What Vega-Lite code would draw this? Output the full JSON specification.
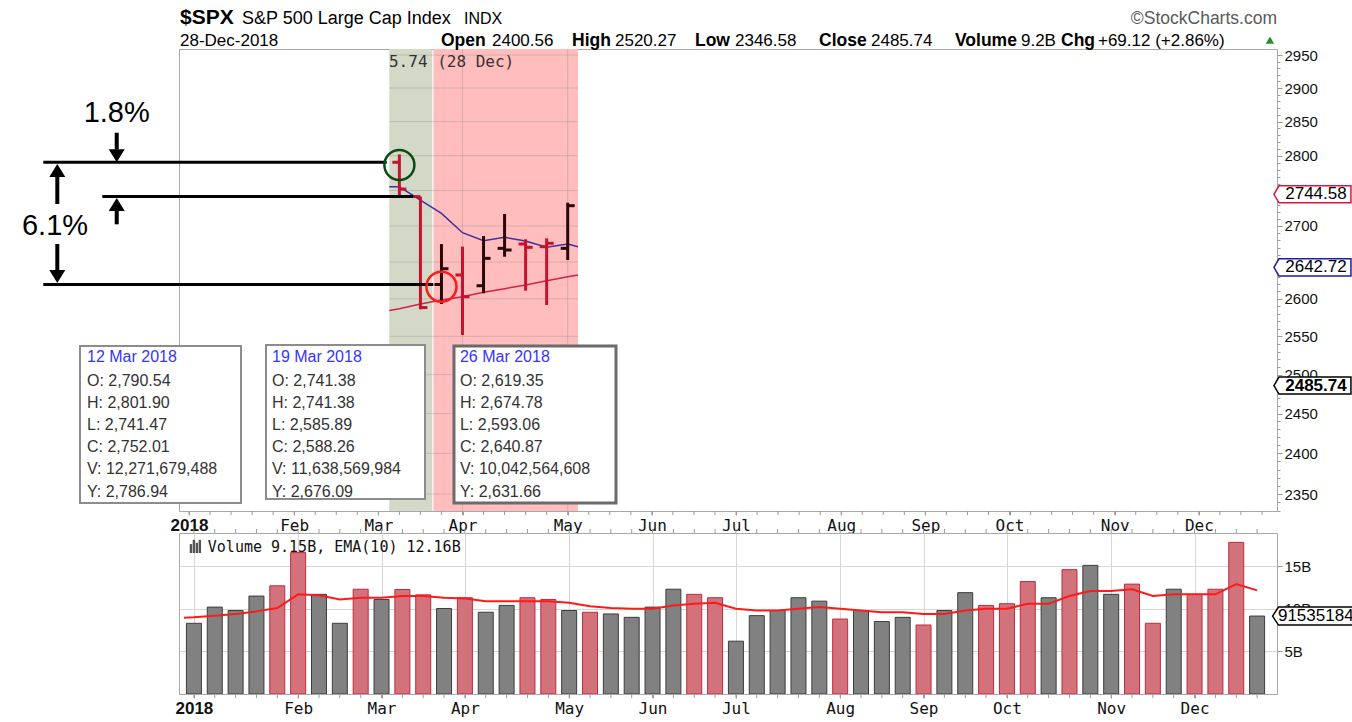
{
  "$schema": "https://vega.github.io/schema/vega-lite/v6.json",
  "background": "white",
  "padding": {"left": 21, "top": 6, "right": 0, "bottom": 0},
  "spacing": 22,
  "bounds": "flush",
  "config": {
    "view": {"stroke": "#a8a8a8", "strokeWidth": 1},
    "text": {"font": "Liberation Sans"}
  },
  "datasets": {
    "shade": [
      {"d": "2018-03-08T15:20:00Z", "d2": "2018-03-22T22:50:00Z", "k": "g"},
      {"d": "2018-03-23T08:00:00Z", "d2": "2018-05-10T10:20:00Z", "k": "p"}
    ],
    "hgrid": [{"p": 2350}, {"p": 2400}, {"p": 2450}, {"p": 2500}, {"p": 2550}, {"p": 2600}, {"p": 2650}, {"p": 2700}, {"p": 2750}, {"p": 2800}, {"p": 2850}, {"p": 2900}, {"p": 2950}],
    "vgrid": [{"d": "2018-04-02"}, {"d": "2018-05-07"}],
    "ma": [
      {"d": "2018-03-08T15:20:00Z", "b": 2755.4, "r": 2584.3},
      {"d": "2018-03-12", "b": 2755.4, "r": 2586.7},
      {"d": "2018-03-19", "b": 2736.5, "r": 2593.0},
      {"d": "2018-03-26", "b": 2717.7, "r": 2598.4},
      {"d": "2018-04-02", "b": 2690.6, "r": 2602.8},
      {"d": "2018-04-09", "b": 2679.4, "r": 2608.8},
      {"d": "2018-04-16", "b": 2684.2, "r": 2613.7},
      {"d": "2018-04-23", "b": 2679.0, "r": 2618.7},
      {"d": "2018-04-30", "b": 2670.3, "r": 2624.4},
      {"d": "2018-05-07", "b": 2674.8, "r": 2630.0},
      {"d": "2018-05-10T10:20:00Z", "b": 2671.1, "r": 2632.2}
    ],
    "ohlc": [
      {"d": "2018-03-12", "o": 2790.54, "h": 2801.90, "l": 2741.47, "c": 2752.01, "dir": "down"},
      {"d": "2018-03-19", "o": 2741.38, "h": 2741.38, "l": 2585.89, "c": 2588.26, "dir": "down"},
      {"d": "2018-03-26", "o": 2619.35, "h": 2674.78, "l": 2593.06, "c": 2640.87, "dir": "up"},
      {"d": "2018-04-02", "o": 2632.3, "h": 2671.2, "l": 2551.7, "c": 2602.8, "dir": "down"},
      {"d": "2018-04-09", "o": 2617.7, "h": 2686.0, "l": 2607.5, "c": 2655.1, "dir": "up"},
      {"d": "2018-04-16", "o": 2668.9, "h": 2716.8, "l": 2657.3, "c": 2666.6, "dir": "up"},
      {"d": "2018-04-23", "o": 2674.9, "h": 2681.4, "l": 2611.0, "c": 2670.3, "dir": "down"},
      {"d": "2018-04-30", "o": 2671.2, "h": 2682.8, "l": 2591.7, "c": 2675.9, "dir": "down"},
      {"d": "2018-05-07", "o": 2668.9, "h": 2732.7, "l": 2652.8, "c": 2728.5, "dir": "up"}
    ],
    "alines": [
      {"d": "2017-11-13T12:30:00Z", "d2": "2018-03-07T18:40:00Z", "p": 2790.54},
      {"d": "2017-12-03T03:40:00Z", "d2": "2018-03-16T15:10:00Z", "p": 2741.38},
      {"d": "2017-11-13T12:30:00Z", "d2": "2018-03-23T06:40:00Z", "p": 2619.35}
    ],
    "shafts": [
      {"d": "2017-12-07T22:50:00Z", "p": 2833.6, "p2": 2809.1},
      {"d": "2017-12-07T22:50:00Z", "p": 2721.0, "p2": 2702.3},
      {"d": "2017-11-18T04:20:00Z", "p": 2769.3, "p2": 2730.9},
      {"d": "2017-11-18T04:20:00Z", "p": 2674.9, "p2": 2637.7}
    ],
    "headsDown": [
      {"d": "2017-12-07T22:50:00Z", "p": 2799.9},
      {"d": "2017-11-18T04:20:00Z", "p": 2630.3}
    ],
    "headsUp": [
      {"d": "2017-12-07T22:50:00Z", "p": 2730.2},
      {"d": "2017-11-18T04:20:00Z", "p": 2778.7}
    ],
    "pct": [
      {"d": "2017-12-07T22:50:00Z", "p": 2849.5, "t": "1.8%"},
      {"d": "2017-11-17T10:00:00Z", "p": 2687.4, "t": "6.1%"}
    ],
    "circles": [
      {"d": "2018-03-12", "p": 2786.6, "k": "g"},
      {"d": "2018-03-26", "p": 2616.4, "k": "r"}
    ],
    "boxN": [
      {"d": "2017-11-25T17:30:00Z", "d2": "2018-01-18T07:10:00Z", "p": 2339.1, "p2": 2537.2},
      {"d": "2018-01-26T14:50:00Z", "d2": "2018-03-20T12:40:00Z", "p": 2343.9, "p2": 2538.6}
    ],
    "boxS": [
      {"d": "2018-03-30T04:00:00Z", "d2": "2018-05-23T01:40:00Z", "p": 2339.1, "p2": 2537.2}
    ],
    "boxDate": [
      {"d": "2017-11-28T01:30:00Z", "p": 2516.6, "t": "12 Mar 2018"},
      {"d": "2018-01-28T14:40:00Z", "p": 2516.6, "t": "19 Mar 2018"},
      {"d": "2018-04-01T03:50:00Z", "p": 2516.6, "t": "26 Mar 2018"}
    ],
    "boxBody": [
      {"d": "2017-11-28T01:30:00Z", "p": 2485.6, "t": "O: 2,790.54\nH: 2,801.90\nL: 2,741.47\nC: 2,752.01\nV: 12,271,679,488\nY: 2,786.94"},
      {"d": "2018-01-28T14:40:00Z", "p": 2485.6, "t": "O: 2,741.38\nH: 2,741.38\nL: 2,585.89\nC: 2,588.26\nV: 11,638,569,984\nY: 2,676.09"},
      {"d": "2018-04-01T03:50:00Z", "p": 2485.6, "t": "O: 2,619.35\nH: 2,674.78\nL: 2,593.06\nC: 2,640.87\nV: 10,042,564,608\nY: 2,631.66"}
    ],
    "hdrBig": [{"d": "2017-12-29", "p": 2997.8, "t": "$SPX"}],
    "hdrName": [{"d": "2018-01-18T15:10:00Z", "p": 2997.8, "t": "S&P 500 Large Cap Index"}],
    "hdrIndx": [{"d": "2018-04-02T12:00:00Z", "p": 2997.8, "t": "INDX"}],
    "hdrCopy": [{"d": "2018-12-29", "p": 2997.8, "t": "©StockCharts.com"}],
    "hdrLbl": [
      {"d": "2018-03-25T20:10:00Z", "p": 2963.8, "t": "Open"},
      {"d": "2018-05-08T10:20:00Z", "p": 2963.8, "t": "High"},
      {"d": "2018-06-18T08:25:00Z", "p": 2963.8, "t": "Low"},
      {"d": "2018-07-29T14:40:00Z", "p": 2963.8, "t": "Close"},
      {"d": "2018-09-12T20:40:00Z", "p": 2963.8, "t": "Volume"},
      {"d": "2018-10-18T03:05:00Z", "p": 2963.8, "t": "Chg"}
    ],
    "hdrVal": [
      {"d": "2017-12-29", "p": 2963.8, "t": "28-Dec-2018"},
      {"d": "2018-04-11T19:30:00Z", "p": 2963.8, "t": "2400.56"},
      {"d": "2018-05-22T17:45:00Z", "p": 2963.8, "t": "2520.27"},
      {"d": "2018-07-01T15:50:00Z", "p": 2963.8, "t": "2346.58"},
      {"d": "2018-08-15T21:50:00Z", "p": 2963.8, "t": "2485.74"},
      {"d": "2018-10-04T19:40:00Z", "p": 2963.8, "t": "9.2B"},
      {"d": "2018-10-30T10:30:00Z", "p": 2963.8, "t": "+69.12 (+2.86%)"}
    ],
    "tri": [{"d": "2018-12-26T15:50:00Z", "p": 2973.0}],
    "lastLbl": [{"d": "2018-03-08T13:00:00Z", "p": 2931.7, "t": "5.74 (28 Dec)"}],
    "tags": [
      {"d": "2019-01-09T19:00:00Z", "p": 2744.58, "k": "r"},
      {"d": "2019-01-09T19:00:00Z", "p": 2642.72, "k": "b"},
      {"d": "2019-01-09T19:00:00Z", "p": 2485.74, "k": "k"}
    ],
    "tagTxt": [
      {"d": "2019-01-10T23:00:00Z", "p": 2744.58, "t": "2744.58"},
      {"d": "2019-01-10T23:00:00Z", "p": 2642.72, "t": "2642.72"}
    ],
    "tagTxtB": [{"d": "2019-01-10T23:00:00Z", "p": 2485.74, "t": "2485.74"}],
    "vol": [
      {"d": "2018-01-01", "v": 8.3, "dir": "up"},
      {"d": "2018-01-08", "v": 10.2, "dir": "up"},
      {"d": "2018-01-15", "v": 9.8, "dir": "up"},
      {"d": "2018-01-22", "v": 11.5, "dir": "up"},
      {"d": "2018-01-29", "v": 12.7, "dir": "down"},
      {"d": "2018-02-05", "v": 16.6, "dir": "down"},
      {"d": "2018-02-12", "v": 11.7, "dir": "up"},
      {"d": "2018-02-19", "v": 8.3, "dir": "up"},
      {"d": "2018-02-26", "v": 12.3, "dir": "down"},
      {"d": "2018-03-05", "v": 11.1, "dir": "up"},
      {"d": "2018-03-12", "v": 12.27, "dir": "down"},
      {"d": "2018-03-19", "v": 11.64, "dir": "down"},
      {"d": "2018-03-26", "v": 10.04, "dir": "up"},
      {"d": "2018-04-02", "v": 11.3, "dir": "down"},
      {"d": "2018-04-09", "v": 9.6, "dir": "up"},
      {"d": "2018-04-16", "v": 10.4, "dir": "up"},
      {"d": "2018-04-23", "v": 11.3, "dir": "down"},
      {"d": "2018-04-30", "v": 11.1, "dir": "down"},
      {"d": "2018-05-07", "v": 9.8, "dir": "up"},
      {"d": "2018-05-14", "v": 9.6, "dir": "down"},
      {"d": "2018-05-21", "v": 9.4, "dir": "up"},
      {"d": "2018-05-28", "v": 9.0, "dir": "up"},
      {"d": "2018-06-04", "v": 10.2, "dir": "up"},
      {"d": "2018-06-11", "v": 12.3, "dir": "up"},
      {"d": "2018-06-18", "v": 11.7, "dir": "down"},
      {"d": "2018-06-25", "v": 11.3, "dir": "down"},
      {"d": "2018-07-02", "v": 6.2, "dir": "up"},
      {"d": "2018-07-09", "v": 9.2, "dir": "up"},
      {"d": "2018-07-16", "v": 9.8, "dir": "up"},
      {"d": "2018-07-23", "v": 11.3, "dir": "up"},
      {"d": "2018-07-30", "v": 10.9, "dir": "up"},
      {"d": "2018-08-06", "v": 8.8, "dir": "down"},
      {"d": "2018-08-13", "v": 9.8, "dir": "up"},
      {"d": "2018-08-20", "v": 8.5, "dir": "up"},
      {"d": "2018-08-27", "v": 9.0, "dir": "up"},
      {"d": "2018-09-03", "v": 8.1, "dir": "down"},
      {"d": "2018-09-10", "v": 9.8, "dir": "up"},
      {"d": "2018-09-17", "v": 11.9, "dir": "up"},
      {"d": "2018-09-24", "v": 10.4, "dir": "down"},
      {"d": "2018-10-01", "v": 10.6, "dir": "down"},
      {"d": "2018-10-08", "v": 13.2, "dir": "down"},
      {"d": "2018-10-15", "v": 11.3, "dir": "up"},
      {"d": "2018-10-22", "v": 14.6, "dir": "down"},
      {"d": "2018-10-29", "v": 15.1, "dir": "up"},
      {"d": "2018-11-05", "v": 11.7, "dir": "up"},
      {"d": "2018-11-12", "v": 12.9, "dir": "down"},
      {"d": "2018-11-19", "v": 8.3, "dir": "down"},
      {"d": "2018-11-26", "v": 12.3, "dir": "up"},
      {"d": "2018-12-03", "v": 11.7, "dir": "down"},
      {"d": "2018-12-10", "v": 12.3, "dir": "down"},
      {"d": "2018-12-17", "v": 17.8, "dir": "down"},
      {"d": "2018-12-24", "v": 9.15, "dir": "up"}
    ],
    "ema": [
      {"d": "2017-12-28T16:10:00Z", "v": 8.95},
      {"d": "2018-01-01", "v": 9.0},
      {"d": "2018-01-08", "v": 9.2},
      {"d": "2018-01-15", "v": 9.4},
      {"d": "2018-01-22", "v": 9.7},
      {"d": "2018-01-29", "v": 10.1},
      {"d": "2018-02-05", "v": 11.7},
      {"d": "2018-02-12", "v": 11.6},
      {"d": "2018-02-19", "v": 11.1},
      {"d": "2018-02-26", "v": 11.3},
      {"d": "2018-03-05", "v": 11.3},
      {"d": "2018-03-12", "v": 11.5},
      {"d": "2018-03-19", "v": 11.5},
      {"d": "2018-03-26", "v": 11.3},
      {"d": "2018-04-02", "v": 11.2},
      {"d": "2018-04-09", "v": 10.9},
      {"d": "2018-04-16", "v": 10.9},
      {"d": "2018-04-23", "v": 10.9},
      {"d": "2018-04-30", "v": 10.9},
      {"d": "2018-05-07", "v": 10.7},
      {"d": "2018-05-14", "v": 10.3},
      {"d": "2018-05-21", "v": 10.1},
      {"d": "2018-05-28", "v": 10.0},
      {"d": "2018-06-04", "v": 10.0},
      {"d": "2018-06-11", "v": 10.4},
      {"d": "2018-06-18", "v": 10.6},
      {"d": "2018-06-25", "v": 10.7},
      {"d": "2018-07-02", "v": 10.0},
      {"d": "2018-07-09", "v": 9.8},
      {"d": "2018-07-16", "v": 9.8},
      {"d": "2018-07-23", "v": 10.0},
      {"d": "2018-07-30", "v": 10.2},
      {"d": "2018-08-06", "v": 10.0},
      {"d": "2018-08-13", "v": 9.8},
      {"d": "2018-08-20", "v": 9.6},
      {"d": "2018-08-27", "v": 9.6},
      {"d": "2018-09-03", "v": 9.4},
      {"d": "2018-09-10", "v": 9.4},
      {"d": "2018-09-17", "v": 9.8},
      {"d": "2018-09-24", "v": 10.0},
      {"d": "2018-10-01", "v": 10.0},
      {"d": "2018-10-08", "v": 10.6},
      {"d": "2018-10-15", "v": 10.6},
      {"d": "2018-10-22", "v": 11.5},
      {"d": "2018-10-29", "v": 12.1},
      {"d": "2018-11-05", "v": 12.1},
      {"d": "2018-11-12", "v": 12.3},
      {"d": "2018-11-19", "v": 11.5},
      {"d": "2018-11-26", "v": 11.7},
      {"d": "2018-12-03", "v": 11.7},
      {"d": "2018-12-10", "v": 11.7},
      {"d": "2018-12-17", "v": 12.9},
      {"d": "2018-12-24", "v": 12.16}
    ],
    "volLbl": [{"d": "2018-01-05T16:00:00Z", "v": 16.7, "t": "Volume 9.15B, EMA(10) 12.16B"}],
    "volIcon": [
      {"d": "2017-12-31", "v": 16.55, "v2": 17.6},
      {"d": "2018-01-01", "v": 16.55, "v2": 18.1},
      {"d": "2018-01-02", "v": 16.55, "v2": 17.75},
      {"d": "2018-01-03", "v": 16.55, "v2": 18.1}
    ],
    "volTag": [{"d": "2019-01-13T07:00:00Z", "v": 9.15}],
    "volTagTxt": [{"d": "2018-12-31", "v": 9.15, "t": "9153518400"}]
  },
  "vconcat": [
    {
      "width": 1098,
      "height": 462,
      "resolve": {"scale": {"color": "independent", "stroke": "independent"}},
      "layer": [
        {
          "data": {"name": "shade"},
          "mark": {"type": "rect", "clip": true, "opacity": 1},
          "encoding": {
            "x": {"field": "d", "type": "temporal", "scale": {"type": "utc", "domain": [1514477400000, 1546041600000]}, "axis": {"title": null}},
            "x2": {"field": "d2"},
            "y": {"datum": 2329.4, "type": "quantitative", "scale": {"type": "log", "domain": [2329.4, 2959.2], "nice": false, "zero": false}, "axis": {"title": null}},
            "y2": {"datum": 2959.2},
            "color": {"field": "k", "type": "nominal", "scale": {"domain": ["g", "p"], "range": ["#d3d8c7", "#ffbdbd"]}, "legend": null}
          }
        },
        {
          "data": {"name": "hgrid"},
          "mark": {"type": "rule", "color": "#7a7a7a", "opacity": 0.28, "strokeWidth": 1},
          "encoding": {
            "x": {"datum": {"year": 2018, "month": 3, "date": 8, "hours": 15, "minutes": 20, "utc": true}, "type": "temporal", "scale": {"type": "utc", "domain": [1514477400000, 1546041600000]}, "axis": {"title": null}},
            "x2": {"datum": {"year": 2018, "month": 5, "date": 10, "hours": 10, "minutes": 20, "utc": true}},
            "y": {"field": "p", "type": "quantitative", "scale": {"type": "log", "domain": [2329.4, 2959.2], "nice": false, "zero": false}, "axis": {"title": null}}
          }
        },
        {
          "data": {"name": "vgrid"},
          "mark": {"type": "rule", "color": "#7a7a7a", "opacity": 0.28, "strokeWidth": 1},
          "encoding": {
            "x": {"field": "d", "type": "temporal", "scale": {"type": "utc", "domain": [1514477400000, 1546041600000]}, "axis": {"title": null}},
            "y": {"datum": 2329.4, "type": "quantitative", "scale": {"type": "log", "domain": [2329.4, 2959.2], "nice": false, "zero": false}, "axis": {"title": null}},
            "y2": {"datum": 2959.2}
          }
        },
        {
          "data": {"name": "vol"},
          "mark": {"type": "rule", "color": "#9a9a9a", "strokeWidth": 1, "clip": false},
          "encoding": {
            "x": {"field": "d", "type": "temporal", "scale": {"type": "utc", "domain": [1514477400000, 1546041600000]}, "axis": {"title": null}},
            "y": {"datum": 2329.4, "type": "quantitative", "scale": {"type": "log", "domain": [2329.4, 2959.2], "nice": false, "zero": false}, "axis": {"title": null}},
            "y2": {"datum": 2324.6}
          }
        },
        {
          "data": {"name": "ma"},
          "mark": {"type": "line", "color": "#3f309c", "strokeWidth": 1.5, "clip": true},
          "encoding": {
            "x": {"field": "d", "type": "temporal", "scale": {"type": "utc", "domain": [1514477400000, 1546041600000]}, "axis": {"title": null}},
            "y": {"field": "b", "type": "quantitative", "scale": {"type": "log", "domain": [2329.4, 2959.2], "nice": false, "zero": false}, "axis": {"title": null}}
          }
        },
        {
          "data": {"name": "ma"},
          "mark": {"type": "line", "color": "#cc2548", "strokeWidth": 1.5, "clip": true},
          "encoding": {
            "x": {"field": "d", "type": "temporal", "scale": {"type": "utc", "domain": [1514477400000, 1546041600000]}, "axis": {"title": null}},
            "y": {"field": "r", "type": "quantitative", "scale": {"type": "log", "domain": [2329.4, 2959.2], "nice": false, "zero": false}, "axis": {"title": null}}
          }
        },
        {
          "data": {"name": "ohlc"},
          "mark": {"type": "rule", "strokeWidth": 3, "clip": true},
          "encoding": {
            "x": {
              "field": "d", "type": "temporal",
              "scale": {"type": "utc", "domain": [1514477400000, 1546041600000]},
              "axis": {
                "title": null,
                "values": [1514764800000, 1517788800000, 1520208000000, 1522627200000, 1525651200000, 1528070400000, 1530489600000, 1533513600000, 1535932800000, 1538352000000, 1541376000000, 1543795200000],
                "labelExpr": "utcmonth(datum.value) == 0 ? '2018' : utcFormat(datum.value, '%b')",
                "labelFont": {"condition": {"test": "utcmonth(datum.value) == 0", "value": "Liberation Sans"}, "value": "DejaVu Sans Mono"},
                "labelFontWeight": {"condition": {"test": "utcmonth(datum.value) == 0", "value": "bold"}, "value": "normal"},
                "labelFontSize": {"condition": {"test": "utcmonth(datum.value) == 0", "value": 17}, "value": 16},
                "labelColor": "#111111",
                "labelPadding": 2,
                "labelOverlap": false,
                "labelFlush": false,
                "labelBound": false,
                "tickSize": 4,
                "tickColor": "#9a9a9a",
                "domain": false,
                "grid": false
              }
            },
            "y": {
              "field": "l", "type": "quantitative",
              "scale": {"type": "log", "domain": [2329.4, 2959.2], "nice": false, "zero": false},
              "axis": {
                "title": null,
                "orient": "right",
                "values": [2330,2340,2350,2360,2370,2380,2390,2400,2410,2420,2430,2440,2450,2460,2470,2480,2490,2500,2510,2520,2530,2540,2550,2560,2570,2580,2590,2600,2610,2620,2630,2640,2650,2660,2670,2680,2690,2700,2710,2720,2730,2740,2750,2760,2770,2780,2790,2800,2810,2820,2830,2840,2850,2860,2870,2880,2890,2900,2910,2920,2930,2940,2950],
                "labelExpr": "datum.value % 50 == 0 ? format(datum.value, 'd') : ''",
                "tickSize": {"condition": {"test": "datum.value % 50 == 0", "value": 5}, "value": 3},
                "tickColor": "#9a9a9a",
                "labelFont": "Liberation Sans",
                "labelFontSize": 15,
                "labelColor": "#111111",
                "labelPadding": 2,
                "labelOverlap": false,
                "labelFlush": false,
                "labelBound": false,
                "domain": false,
                "grid": false
              }
            },
            "y2": {"field": "h"},
            "color": {"field": "dir", "type": "nominal", "scale": {"domain": ["down", "up"], "range": ["#c4122f", "#2b0808"]}, "legend": null}
          }
        },
        {
          "data": {"name": "ohlc"},
          "mark": {"type": "rule", "strokeWidth": 3, "xOffset": -7, "clip": true},
          "encoding": {
            "x": {"field": "d", "type": "temporal", "scale": {"type": "utc", "domain": [1514477400000, 1546041600000]}, "axis": {"title": null}},
            "x2": {"field": "d"},
            "y": {"field": "o", "type": "quantitative", "scale": {"type": "log", "domain": [2329.4, 2959.2], "nice": false, "zero": false}, "axis": {"title": null}},
            "color": {"field": "dir", "type": "nominal", "scale": {"domain": ["down", "up"], "range": ["#c4122f", "#2b0808"]}, "legend": null}
          }
        },
        {
          "data": {"name": "ohlc"},
          "mark": {"type": "rule", "strokeWidth": 3, "x2Offset": 7, "clip": true},
          "encoding": {
            "x": {"field": "d", "type": "temporal", "scale": {"type": "utc", "domain": [1514477400000, 1546041600000]}, "axis": {"title": null}},
            "x2": {"field": "d"},
            "y": {"field": "c", "type": "quantitative", "scale": {"type": "log", "domain": [2329.4, 2959.2], "nice": false, "zero": false}, "axis": {"title": null}},
            "color": {"field": "dir", "type": "nominal", "scale": {"domain": ["down", "up"], "range": ["#c4122f", "#2b0808"]}, "legend": null}
          }
        },
        {
          "data": {"name": "alines"},
          "mark": {"type": "rule", "color": "#000000", "strokeWidth": 3, "clip": false},
          "encoding": {
            "x": {"field": "d", "type": "temporal", "scale": {"type": "utc", "domain": [1514477400000, 1546041600000]}, "axis": {"title": null}},
            "x2": {"field": "d2"},
            "y": {"field": "p", "type": "quantitative", "scale": {"type": "log", "domain": [2329.4, 2959.2], "nice": false, "zero": false}, "axis": {"title": null}}
          }
        },
        {
          "data": {"name": "shafts"},
          "mark": {"type": "rule", "color": "#000000", "strokeWidth": 4, "clip": false},
          "encoding": {
            "x": {"field": "d", "type": "temporal", "scale": {"type": "utc", "domain": [1514477400000, 1546041600000]}, "axis": {"title": null}},
            "y": {"field": "p", "type": "quantitative", "scale": {"type": "log", "domain": [2329.4, 2959.2], "nice": false, "zero": false}, "axis": {"title": null}},
            "y2": {"field": "p2"}
          }
        },
        {
          "data": {"name": "headsDown"},
          "mark": {"type": "point", "shape": "M-1,-0.8125L1,-0.8125L0,0.8125Z", "size": 256, "filled": true, "color": "#000000", "opacity": 1, "clip": false},
          "encoding": {
            "x": {"field": "d", "type": "temporal", "scale": {"type": "utc", "domain": [1514477400000, 1546041600000]}, "axis": {"title": null}},
            "y": {"field": "p", "type": "quantitative", "scale": {"type": "log", "domain": [2329.4, 2959.2], "nice": false, "zero": false}, "axis": {"title": null}}
          }
        },
        {
          "data": {"name": "headsUp"},
          "mark": {"type": "point", "shape": "M-1,0.8125L1,0.8125L0,-0.8125Z", "size": 256, "filled": true, "color": "#000000", "opacity": 1, "clip": false},
          "encoding": {
            "x": {"field": "d", "type": "temporal", "scale": {"type": "utc", "domain": [1514477400000, 1546041600000]}, "axis": {"title": null}},
            "y": {"field": "p", "type": "quantitative", "scale": {"type": "log", "domain": [2329.4, 2959.2], "nice": false, "zero": false}, "axis": {"title": null}}
          }
        },
        {
          "data": {"name": "pct"},
          "mark": {"type": "text", "font": "Liberation Sans", "fontSize": 29, "align": "center", "baseline": "alphabetic", "color": "#000000", "clip": false},
          "encoding": {
            "x": {"field": "d", "type": "temporal", "scale": {"type": "utc", "domain": [1514477400000, 1546041600000]}, "axis": {"title": null}},
            "y": {"field": "p", "type": "quantitative", "scale": {"type": "log", "domain": [2329.4, 2959.2], "nice": false, "zero": false}, "axis": {"title": null}},
            "text": {"field": "t"}
          }
        },
        {
          "data": {"name": "circles"},
          "mark": {"type": "point", "shape": "circle", "size": 900, "filled": false, "strokeWidth": 2.5, "opacity": 1, "clip": false},
          "encoding": {
            "x": {"field": "d", "type": "temporal", "scale": {"type": "utc", "domain": [1514477400000, 1546041600000]}, "axis": {"title": null}},
            "y": {"field": "p", "type": "quantitative", "scale": {"type": "log", "domain": [2329.4, 2959.2], "nice": false, "zero": false}, "axis": {"title": null}},
            "stroke": {"field": "k", "type": "nominal", "scale": {"domain": ["g", "r"], "range": ["#0b4a12", "#ff1a1a"]}, "legend": null}
          }
        },
        {
          "data": {"name": "boxN"},
          "mark": {"type": "rect", "fill": "#ffffff", "stroke": "#8c8c8c", "strokeWidth": 2, "clip": false},
          "encoding": {
            "x": {"field": "d", "type": "temporal", "scale": {"type": "utc", "domain": [1514477400000, 1546041600000]}, "axis": {"title": null}},
            "x2": {"field": "d2"},
            "y": {"field": "p", "type": "quantitative", "scale": {"type": "log", "domain": [2329.4, 2959.2], "nice": false, "zero": false}, "axis": {"title": null}},
            "y2": {"field": "p2"}
          }
        },
        {
          "data": {"name": "boxS"},
          "mark": {"type": "rect", "fill": "#ffffff", "stroke": "#6b6b6b", "strokeWidth": 3, "clip": false},
          "encoding": {
            "x": {"field": "d", "type": "temporal", "scale": {"type": "utc", "domain": [1514477400000, 1546041600000]}, "axis": {"title": null}},
            "x2": {"field": "d2"},
            "y": {"field": "p", "type": "quantitative", "scale": {"type": "log", "domain": [2329.4, 2959.2], "nice": false, "zero": false}, "axis": {"title": null}},
            "y2": {"field": "p2"}
          }
        },
        {
          "data": {"name": "boxDate"},
          "mark": {"type": "text", "font": "Liberation Sans", "fontSize": 16, "align": "left", "baseline": "alphabetic", "color": "#3535ff", "clip": false},
          "encoding": {
            "x": {"field": "d", "type": "temporal", "scale": {"type": "utc", "domain": [1514477400000, 1546041600000]}, "axis": {"title": null}},
            "y": {"field": "p", "type": "quantitative", "scale": {"type": "log", "domain": [2329.4, 2959.2], "nice": false, "zero": false}, "axis": {"title": null}},
            "text": {"field": "t"}
          }
        },
        {
          "data": {"name": "boxBody"},
          "mark": {"type": "text", "font": "Liberation Sans", "fontSize": 16, "align": "left", "baseline": "alphabetic", "color": "#333333", "lineBreak": "\n", "lineHeight": 22.2, "clip": false},
          "encoding": {
            "x": {"field": "d", "type": "temporal", "scale": {"type": "utc", "domain": [1514477400000, 1546041600000]}, "axis": {"title": null}},
            "y": {"field": "p", "type": "quantitative", "scale": {"type": "log", "domain": [2329.4, 2959.2], "nice": false, "zero": false}, "axis": {"title": null}},
            "text": {"field": "t"}
          }
        },
        {
          "data": {"name": "hdrBig"},
          "mark": {"type": "text", "font": "Liberation Sans", "fontSize": 21, "fontWeight": "bold", "align": "left", "baseline": "alphabetic", "color": "#000000", "clip": false},
          "encoding": {
            "x": {"field": "d", "type": "temporal", "scale": {"type": "utc", "domain": [1514477400000, 1546041600000]}, "axis": {"title": null}},
            "y": {"field": "p", "type": "quantitative", "scale": {"type": "log", "domain": [2329.4, 2959.2], "nice": false, "zero": false}, "axis": {"title": null}},
            "text": {"field": "t"}
          }
        },
        {
          "data": {"name": "hdrName"},
          "mark": {"type": "text", "font": "Liberation Sans", "fontSize": 18, "align": "left", "baseline": "alphabetic", "color": "#000000", "clip": false},
          "encoding": {
            "x": {"field": "d", "type": "temporal", "scale": {"type": "utc", "domain": [1514477400000, 1546041600000]}, "axis": {"title": null}},
            "y": {"field": "p", "type": "quantitative", "scale": {"type": "log", "domain": [2329.4, 2959.2], "nice": false, "zero": false}, "axis": {"title": null}},
            "text": {"field": "t"}
          }
        },
        {
          "data": {"name": "hdrIndx"},
          "mark": {"type": "text", "font": "Liberation Sans", "fontSize": 16, "align": "left", "baseline": "alphabetic", "color": "#000000", "clip": false},
          "encoding": {
            "x": {"field": "d", "type": "temporal", "scale": {"type": "utc", "domain": [1514477400000, 1546041600000]}, "axis": {"title": null}},
            "y": {"field": "p", "type": "quantitative", "scale": {"type": "log", "domain": [2329.4, 2959.2], "nice": false, "zero": false}, "axis": {"title": null}},
            "text": {"field": "t"}
          }
        },
        {
          "data": {"name": "hdrCopy"},
          "mark": {"type": "text", "font": "Liberation Sans", "fontSize": 17.5, "align": "right", "baseline": "alphabetic", "color": "#5a5a5a", "clip": false},
          "encoding": {
            "x": {"field": "d", "type": "temporal", "scale": {"type": "utc", "domain": [1514477400000, 1546041600000]}, "axis": {"title": null}},
            "y": {"field": "p", "type": "quantitative", "scale": {"type": "log", "domain": [2329.4, 2959.2], "nice": false, "zero": false}, "axis": {"title": null}},
            "text": {"field": "t"}
          }
        },
        {
          "data": {"name": "hdrLbl"},
          "mark": {"type": "text", "font": "Liberation Sans", "fontSize": 17.5, "fontWeight": "bold", "align": "left", "baseline": "alphabetic", "color": "#000000", "clip": false},
          "encoding": {
            "x": {"field": "d", "type": "temporal", "scale": {"type": "utc", "domain": [1514477400000, 1546041600000]}, "axis": {"title": null}},
            "y": {"field": "p", "type": "quantitative", "scale": {"type": "log", "domain": [2329.4, 2959.2], "nice": false, "zero": false}, "axis": {"title": null}},
            "text": {"field": "t"}
          }
        },
        {
          "data": {"name": "hdrVal"},
          "mark": {"type": "text", "font": "Liberation Sans", "fontSize": 17, "align": "left", "baseline": "alphabetic", "color": "#000000", "clip": false},
          "encoding": {
            "x": {"field": "d", "type": "temporal", "scale": {"type": "utc", "domain": [1514477400000, 1546041600000]}, "axis": {"title": null}},
            "y": {"field": "p", "type": "quantitative", "scale": {"type": "log", "domain": [2329.4, 2959.2], "nice": false, "zero": false}, "axis": {"title": null}},
            "text": {"field": "t"}
          }
        },
        {
          "data": {"name": "tri"},
          "mark": {"type": "point", "shape": "triangle-up", "size": 70, "filled": true, "color": "#23922b", "opacity": 1, "clip": false},
          "encoding": {
            "x": {"field": "d", "type": "temporal", "scale": {"type": "utc", "domain": [1514477400000, 1546041600000]}, "axis": {"title": null}},
            "y": {"field": "p", "type": "quantitative", "scale": {"type": "log", "domain": [2329.4, 2959.2], "nice": false, "zero": false}, "axis": {"title": null}}
          }
        },
        {
          "data": {"name": "lastLbl"},
          "mark": {"type": "text", "font": "DejaVu Sans Mono", "fontSize": 16, "align": "left", "baseline": "alphabetic", "color": "#333333", "clip": false},
          "encoding": {
            "x": {"field": "d", "type": "temporal", "scale": {"type": "utc", "domain": [1514477400000, 1546041600000]}, "axis": {"title": null}},
            "y": {"field": "p", "type": "quantitative", "scale": {"type": "log", "domain": [2329.4, 2959.2], "nice": false, "zero": false}, "axis": {"title": null}},
            "text": {"field": "t"}
          }
        },
        {
          "data": {"name": "tags"},
          "mark": {"type": "point", "shape": "M-1,0L-0.87,-0.221L1,-0.221L1,0.221L-0.87,0.221Z", "size": 5929, "filled": true, "fill": "#ffffff", "strokeWidth": 1.5, "opacity": 1, "clip": false},
          "encoding": {
            "x": {"field": "d", "type": "temporal", "scale": {"type": "utc", "domain": [1514477400000, 1546041600000]}, "axis": {"title": null}},
            "y": {"field": "p", "type": "quantitative", "scale": {"type": "log", "domain": [2329.4, 2959.2], "nice": false, "zero": false}, "axis": {"title": null}},
            "stroke": {"field": "k", "type": "nominal", "scale": {"domain": ["r", "b", "k"], "range": ["#d8153f", "#1c1ca8", "#000000"]}, "legend": null}
          }
        },
        {
          "data": {"name": "tagTxt"},
          "mark": {"type": "text", "font": "Liberation Sans", "fontSize": 17, "align": "center", "baseline": "middle", "color": "#000000", "clip": false},
          "encoding": {
            "x": {"field": "d", "type": "temporal", "scale": {"type": "utc", "domain": [1514477400000, 1546041600000]}, "axis": {"title": null}},
            "y": {"field": "p", "type": "quantitative", "scale": {"type": "log", "domain": [2329.4, 2959.2], "nice": false, "zero": false}, "axis": {"title": null}},
            "text": {"field": "t"}
          }
        },
        {
          "data": {"name": "tagTxtB"},
          "mark": {"type": "text", "font": "Liberation Sans", "fontSize": 17, "fontWeight": "bold", "align": "center", "baseline": "middle", "color": "#000000", "clip": false},
          "encoding": {
            "x": {"field": "d", "type": "temporal", "scale": {"type": "utc", "domain": [1514477400000, 1546041600000]}, "axis": {"title": null}},
            "y": {"field": "p", "type": "quantitative", "scale": {"type": "log", "domain": [2329.4, 2959.2], "nice": false, "zero": false}, "axis": {"title": null}},
            "text": {"field": "t"}
          }
        }
      ]
    },
    {
      "width": 1098,
      "height": 161,
      "resolve": {"scale": {"fill": "independent", "stroke": "independent"}},
      "layer": [
        {
          "data": {"name": "vol"},
          "mark": {"type": "bar", "width": 15, "strokeWidth": 1, "opacity": 1, "clip": true},
          "encoding": {
            "x": {
              "field": "d", "type": "temporal",
              "scale": {"type": "utc", "domain": [1514477400000, 1546041600000]},
              "axis": {
                "title": null,
                "values": [1514764800000, 1517788800000, 1520208000000, 1522627200000, 1525651200000, 1528070400000, 1530489600000, 1533513600000, 1535932800000, 1538352000000, 1541376000000, 1543795200000],
                "labelExpr": "utcmonth(datum.value) == 0 ? '2018' : utcFormat(datum.value, '%b')",
                "labelFont": {"condition": {"test": "utcmonth(datum.value) == 0", "value": "Liberation Sans"}, "value": "DejaVu Sans Mono"},
                "labelFontWeight": {"condition": {"test": "utcmonth(datum.value) == 0", "value": "bold"}, "value": "normal"},
                "labelFontSize": {"condition": {"test": "utcmonth(datum.value) == 0", "value": 17}, "value": 16},
                "labelColor": "#111111",
                "labelPadding": 2,
                "labelOverlap": false,
                "labelFlush": false,
                "labelBound": false,
                "tickSize": 4,
                "tickColor": "#9a9a9a",
                "domain": false,
                "grid": true,
                "gridColor": "#d6d6d6"
              }
            },
            "y": {
              "field": "v", "type": "quantitative",
              "scale": {"domain": [0, 18.9], "nice": false, "zero": true},
              "axis": {
                "title": null,
                "orient": "right",
                "values": [5, 10, 15],
                "labelExpr": "datum.value + 'B'",
                "tickSize": 5,
                "tickColor": "#9a9a9a",
                "labelFont": "Liberation Sans",
                "labelFontSize": 15,
                "labelColor": "#111111",
                "labelPadding": 2,
                "labelOverlap": false,
                "labelFlush": false,
                "labelBound": false,
                "domain": false,
                "grid": true,
                "gridColor": "#d6d6d6"
              }
            },
            "fill": {"field": "dir", "type": "nominal", "scale": {"domain": ["down", "up"], "range": ["#d2727b", "#818181"]}, "legend": null},
            "stroke": {"field": "dir", "type": "nominal", "scale": {"domain": ["down", "up"], "range": ["#c22a3e", "#3d3d3d"]}, "legend": null}
          }
        },
        {
          "data": {"name": "vol"},
          "mark": {"type": "rule", "color": "#9a9a9a", "strokeWidth": 1, "clip": false},
          "encoding": {
            "x": {"field": "d", "type": "temporal", "scale": {"type": "utc", "domain": [1514477400000, 1546041600000]}, "axis": {"title": null}},
            "y": {"datum": 18.9, "type": "quantitative", "scale": {"domain": [0, 18.9], "nice": false, "zero": true}, "axis": {"title": null}},
            "y2": {"datum": 19.37}
          }
        },
        {
          "data": {"name": "vol"},
          "mark": {"type": "rule", "color": "#9a9a9a", "strokeWidth": 1, "clip": false},
          "encoding": {
            "x": {"field": "d", "type": "temporal", "scale": {"type": "utc", "domain": [1514477400000, 1546041600000]}, "axis": {"title": null}},
            "y": {"datum": 0, "type": "quantitative", "scale": {"domain": [0, 18.9], "nice": false, "zero": true}, "axis": {"title": null}},
            "y2": {"datum": -0.47}
          }
        },
        {
          "data": {"name": "ema"},
          "mark": {"type": "line", "color": "#ff1a1a", "strokeWidth": 2, "clip": true},
          "encoding": {
            "x": {"field": "d", "type": "temporal", "scale": {"type": "utc", "domain": [1514477400000, 1546041600000]}, "axis": {"title": null}},
            "y": {"field": "v", "type": "quantitative", "scale": {"domain": [0, 18.9], "nice": false, "zero": true}, "axis": {"title": null}}
          }
        },
        {
          "data": {"name": "volLbl"},
          "mark": {"type": "text", "font": "DejaVu Sans Mono", "fontSize": 15, "align": "left", "baseline": "alphabetic", "color": "#111111"},
          "encoding": {
            "x": {"field": "d", "type": "temporal", "scale": {"type": "utc", "domain": [1514477400000, 1546041600000]}, "axis": {"title": null}},
            "y": {"field": "v", "type": "quantitative", "scale": {"domain": [0, 18.9], "nice": false, "zero": true}, "axis": {"title": null}},
            "text": {"field": "t"}
          }
        },
        {
          "data": {"name": "volIcon"},
          "mark": {"type": "rule", "strokeWidth": 2.4, "color": "#555555"},
          "encoding": {
            "x": {"field": "d", "type": "temporal", "scale": {"type": "utc", "domain": [1514477400000, 1546041600000]}, "axis": {"title": null}},
            "y": {"field": "v", "type": "quantitative", "scale": {"domain": [0, 18.9], "nice": false, "zero": true}, "axis": {"title": null}},
            "y2": {"field": "v2"}
          }
        },
        {
          "data": {"name": "volTag"},
          "mark": {"type": "point", "shape": "M-1,0L-0.867,-0.2L1,-0.2L1,0.2L-0.867,0.2Z", "size": 8100, "filled": true, "fill": "#ffffff", "stroke": "#000000", "strokeWidth": 1.5, "opacity": 1, "clip": false},
          "encoding": {
            "x": {"field": "d", "type": "temporal", "scale": {"type": "utc", "domain": [1514477400000, 1546041600000]}, "axis": {"title": null}},
            "y": {"field": "v", "type": "quantitative", "scale": {"domain": [0, 18.9], "nice": false, "zero": true}, "axis": {"title": null}}
          }
        },
        {
          "data": {"name": "volTagTxt"},
          "mark": {"type": "text", "font": "Liberation Sans", "fontSize": 17, "align": "left", "baseline": "middle", "color": "#000000", "clip": false},
          "encoding": {
            "x": {"field": "d", "type": "temporal", "scale": {"type": "utc", "domain": [1514477400000, 1546041600000]}, "axis": {"title": null}},
            "y": {"field": "v", "type": "quantitative", "scale": {"domain": [0, 18.9], "nice": false, "zero": true}, "axis": {"title": null}},
            "text": {"field": "t"}
          }
        }
      ]
    }
  ]
}
